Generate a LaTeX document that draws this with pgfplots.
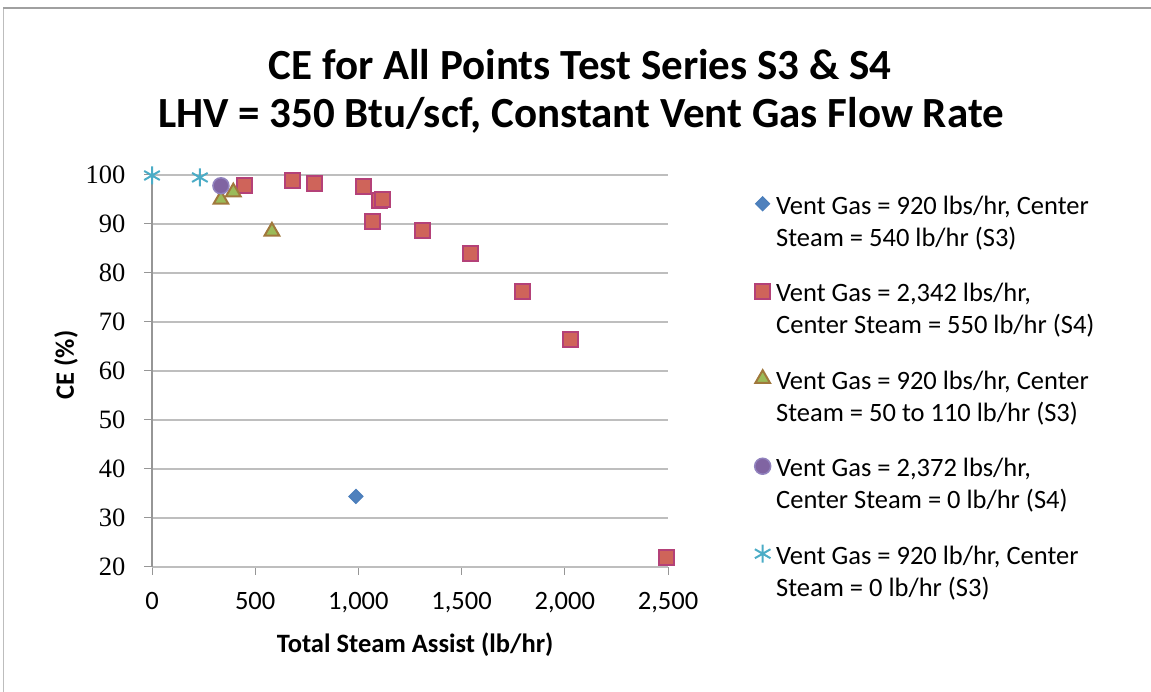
\documentclass[border=0pt]{standalone}
\usepackage{fontspec}
\setmainfont{Carlito}
\newfontfamily\tickserif{Liberation Serif}
\usepackage{pgfplots}
\pgfplotsset{compat=1.18}
\definecolor{sOneFill}{RGB}{79,129,189}
\definecolor{sOneDraw}{RGB}{74,126,187}
\definecolor{sTwoFill}{RGB}{207,100,90}
\definecolor{sTwoDraw}{RGB}{180,65,120}
\definecolor{sThreeFill}{RGB}{155,187,89}
\definecolor{sThreeDraw}{RGB}{160,120,60}
\definecolor{sFourFill}{RGB}{128,100,162}
\definecolor{sFourDraw}{RGB}{145,130,190}
\definecolor{sFive}{RGB}{75,172,198}
\definecolor{gridgray}{RGB}{190,190,190}
\definecolor{axisgray}{RGB}{150,150,150}
\definecolor{framegray}{RGB}{160,160,160}
\newcommand{\legtwo}[2]{\raisebox{0pt}[\height][0pt]{\begin{tabular}[t]{@{}l@{}}#1\\#2\end{tabular}}}
\begin{document}
\begin{tikzpicture}[x=1pt,y=1pt]
\useasboundingbox (0,0) rectangle (1151,692);
\draw[color=framegray!70, line width=1.5pt] (3.5,0) -- (3.5,684);
\draw[color=framegray, line width=1.2pt] (3,684) -- (1151,684);
\node[font=\fontsize{43}{50}\selectfont\bfseries, anchor=base] at (580,612) {CE for All Points Test Series S3 \& S4};
\node[font=\fontsize{43}{50}\selectfont\bfseries, anchor=base] at (581,564) {LHV = 350 Btu/scf, Constant Vent Gas Flow Rate};
\begin{axis}[
  at={(152pt,125pt)}, anchor=south west,
  scale only axis, width=516pt, height=392pt,
  xmin=0, xmax=2500, ymin=20, ymax=100,
  xtick={0,500,1000,1500,2000,2500},
  ytick={20,30,40,50,60,70,80,90,100},
  clip=false,
  axis x line*=bottom, axis y line*=left,
  axis line style={draw=axisgray, line width=1.2pt, -},
  x axis line style={draw=gridgray},
  tick align=outside, major tick length=8pt,
  tick style={draw=axisgray, line width=1pt},
  ymajorgrids, grid style={draw=gridgray, line width=1.2pt},
  /pgf/number format/assume math mode=true,
  /pgf/number format/1000 sep={,},
  scaled x ticks=false,
  xticklabel style={font=\fontsize{26.5}{32}\selectfont, yshift=-14pt},
  yticklabel style={font=\tickserif\fontsize{26.5}{32}\selectfont, xshift=-15pt},
  xlabel={Total Steam Assist (lb/hr)},
  ylabel={CE (\%)},
  xlabel style={font=\fontsize{26.5}{32}\selectfont\bfseries, at={(axis description cs:0.51,-0.199)}, anchor=center},
  ylabel style={font=\fontsize{26.5}{32}\selectfont\bfseries, at={(axis description cs:-0.1667,0.515)}, anchor=center},
  legend cell align=left,
  legend style={draw=none, fill=none, inner sep=0pt,
    at={(rel axis cs:1.1676,0.9577)}, anchor=north west,
    font=\fontsize{26.5}{32}\selectfont,
    nodes={inner sep=0pt},
    row sep=63.6pt,
    /tikz/every odd column/.append style={column sep=5.5pt}},
]
\addplot[only marks, mark=square*, mark size=5pt, mark options={rotate=45, fill=sOneFill, draw=sOneDraw, line width=1pt}]
  coordinates {(988,34.4)};
\addlegendentry{\legtwo{Vent Gas = 920 lbs/hr, Center}{Steam = 540 lb/hr (S3)}}
\addplot[only marks, mark=square*, mark size=7.5pt, mark options={fill=sTwoFill, draw=sTwoDraw, line width=2pt}]
  coordinates {(446,97.8) (680,98.9) (788,98.2) (1027,97.6) (1101,94.8) (1118,95.1) (1066,90.6) (1311,88.7) (1541,83.9) (1797,76.3) (2030,66.5) (2495,22.0)};
\addlegendentry{\legtwo{Vent Gas = 2,342 lbs/hr,}{Center Steam = 550 lb/hr (S4)}}
\addplot[only marks, mark=triangle*, mark size=8.5pt, mark options={fill=sThreeFill, draw=sThreeDraw, line width=2pt}]
  coordinates {(334,95.0) (394,96.5) (581,88.5)};
\addlegendentry{\legtwo{Vent Gas = 920 lbs/hr, Center}{Steam = 50 to 110 lb/hr (S3)}}
\addplot[only marks, mark=*, mark size=8pt, mark options={fill=sFourFill, draw=sFourDraw, line width=1.5pt}]
  coordinates {(334,97.8)};
\addlegendentry{\legtwo{Vent Gas = 2,372 lbs/hr,}{Center Steam = 0 lb/hr (S4)}}
\addplot[only marks, mark=asterisk, mark size=9pt, mark options={draw=sFive, line width=2pt}]
  coordinates {(0,99.9) (232,99.5)};
\addlegendentry{\legtwo{Vent Gas = 920 lb/hr, Center}{Steam = 0 lb/hr (S3)}}
\end{axis}
\end{tikzpicture}
\end{document}
